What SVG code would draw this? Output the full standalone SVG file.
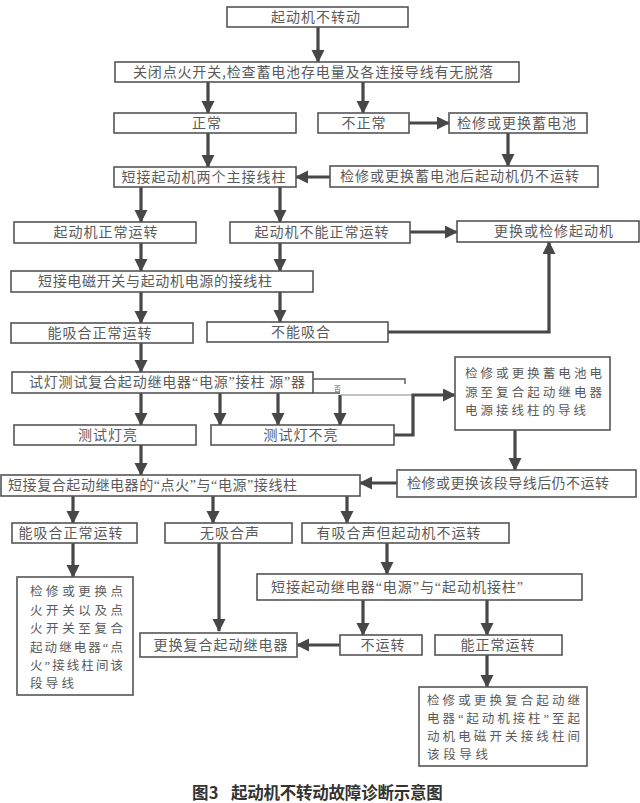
<svg xmlns="http://www.w3.org/2000/svg" width="640" height="803" viewBox="0 0 640 803">
<defs>
<style>
.b{fill:#fff;stroke:#555;stroke-width:1.6}
.t{font-family:"Noto Sans CJK SC","Noto Sans CJK JP",sans-serif;font-size:14px;fill:#5a5a5a;letter-spacing:1px}
.c{text-anchor:middle}
.m{font-family:"Noto Sans CJK SC","Noto Sans CJK JP",sans-serif;font-size:12.5px;fill:#5a5a5a}
.q{font-family:"Liberation Serif",serif}
.k{fill:none;stroke:#474747;stroke-width:3.2}
.cap{font-family:"Noto Sans CJK SC","Noto Sans CJK JP",sans-serif;font-size:16.5px;fill:#333;font-weight:bold;letter-spacing:0.3px}
</style>
<marker id="ah" markerUnits="userSpaceOnUse" markerWidth="16" markerHeight="16" refX="12" refY="6.5" orient="auto" viewBox="0 0 16 16">
<path d="M0,0 L13,6.5 L0,13 z" fill="#474747"/>
</marker>
</defs>
<rect width="640" height="803" fill="#fff"/>

<g id="connectors">
<path class="k" marker-end="url(#ah)" d="M318,27 V62"/>
<path class="k" marker-end="url(#ah)" d="M208,82 V113"/>
<path class="k" marker-end="url(#ah)" d="M363,82 V113"/>
<path class="k" marker-end="url(#ah)" d="M409,123 H449"/>
<path class="k" marker-end="url(#ah)" d="M208,133 V167"/>
<path class="k" marker-end="url(#ah)" d="M508,133 V166"/>
<path class="k" marker-end="url(#ah)" d="M330,177 H296"/>
<path class="k" marker-end="url(#ah)" d="M141,187 V222"/>
<path class="k" marker-end="url(#ah)" d="M280,187 V222"/>
<path class="k" marker-end="url(#ah)" d="M410,232 H457"/>
<path class="k" marker-end="url(#ah)" d="M141,243 V271"/>
<path class="k" marker-end="url(#ah)" d="M280,243 V271"/>
<path class="k" marker-end="url(#ah)" d="M141,292 V323"/>
<path class="k" marker-end="url(#ah)" d="M280,292 V322"/>
<path class="k" marker-end="url(#ah)" d="M388,332 H549 V242"/>
<path class="k" marker-end="url(#ah)" d="M141,343 V372"/>
<path class="k" marker-end="url(#ah)" d="M141,393 V425"/>
<path class="k" marker-end="url(#ah)" d="M220,393 V425"/>
<path class="k" marker-end="url(#ah)" d="M278,393 V425"/>
<path class="k" marker-end="url(#ah)" d="M340,395 V425"/>
<path fill="none" stroke="#888" stroke-width="1.2" d="M340,395 H413"/>
<path class="k" marker-end="url(#ah)" d="M394,435 H413 V395 H455"/>
<path class="k" marker-end="url(#ah)" d="M515,430 V470"/>
<path class="k" marker-end="url(#ah)" d="M397,483 H360"/>
<path class="k" marker-end="url(#ah)" d="M141,445 V475"/>
<path class="k" marker-end="url(#ah)" d="M73,495 V523"/>
<path class="k" marker-end="url(#ah)" d="M213,495 V523"/>
<path class="k" marker-end="url(#ah)" d="M347,495 V523"/>
<path class="k" marker-end="url(#ah)" d="M73,543 V577"/>
<path class="k" marker-end="url(#ah)" d="M219,543 V631"/>
<path class="k" marker-end="url(#ah)" d="M387,543 V574"/>
<path class="k" marker-end="url(#ah)" d="M363,600 V635"/>
<path class="k" marker-end="url(#ah)" d="M487,600 V635"/>
<path class="k" marker-end="url(#ah)" d="M340,645 H297"/>
<path class="k" marker-end="url(#ah)" d="M487,655 V687"/>
</g>

<g id="n1"><rect class="b" x="227" y="7" width="181" height="20"/><text class="t c" x="316" y="22">起动机不转动</text></g>
<g id="n2"><rect class="b" x="115" y="62" width="404" height="20"/><text class="t" x="133" y="77" textLength="361" lengthAdjust="spacing">关闭点火开关,检查蓄电池存电量及各连接导线有无脱落</text></g>
<g id="n3"><rect class="b" x="114" y="113" width="182" height="20"/><text class="t c" x="207" y="128">正常</text></g>
<g id="n4"><rect class="b" x="318" y="113" width="91" height="20"/><text class="t c" x="364" y="128">不正常</text></g>
<g id="n5"><rect class="b" x="449" y="113" width="138" height="20"/><text class="t c" x="517" y="128">检修或更换蓄电池</text></g>
<g id="n6"><rect class="b" x="114" y="167" width="182" height="20"/><text class="t c" x="204" y="182">短接起动机两个主接线柱</text></g>
<g id="n7"><rect class="b" x="330" y="166" width="268" height="21"/><text class="t c" x="460" y="181">检修或更换蓄电池后起动机仍不运转</text></g>
<g id="n8"><rect class="b" x="14" y="222" width="182" height="21"/><text class="t c" x="106" y="237">起动机正常运转</text></g>
<g id="n9"><rect class="b" x="230" y="222" width="180" height="21"/><text class="t c" x="322" y="237">起动机不能正常运转</text></g>
<g id="n10"><rect class="b" x="457" y="221" width="182" height="21"/><text class="t c" x="554" y="236">更换或检修起动机</text></g>
<g id="n11"><rect class="b" x="11" y="271" width="302" height="21"/><text class="t" x="38" y="286" textLength="235" lengthAdjust="spacing">短接电磁开关与起动机电源的接线柱</text></g>
<g id="n12"><rect class="b" x="11" y="323" width="182" height="20"/><text class="t c" x="100" y="338">能吸合正常运转</text></g>
<g id="n13"><rect class="b" x="207" y="322" width="181" height="20"/><text class="t c" x="301" y="337">不能吸合</text></g>
<g id="n14">
<rect class="b" x="12" y="372" width="301" height="21"/>
<path fill="none" stroke="#555" stroke-width="1.4" d="M313,379 H405 V384 M313,393 H340"/>
<text class="t" x="29" y="387" textLength="277" lengthAdjust="spacing">试灯测试复合起动继电器<tspan class="q">“</tspan>电源<tspan class="q">”</tspan>接柱 源<tspan class="q">”</tspan>器</text>
<text x="334" y="391" font-family="Noto Sans CJK SC,sans-serif" font-size="7" fill="#555">否</text>
</g>
<g id="n15"><rect class="b" x="14" y="425" width="182" height="20"/><text class="t c" x="108" y="440">测试灯亮</text></g>
<g id="n16"><rect class="b" x="211" y="425" width="183" height="20"/><text class="t c" x="301" y="440">测试灯不亮</text></g>
<g id="n17"><rect class="b" x="455" y="357" width="155" height="73"/>
<text class="m" x="465" y="378" textLength="137" lengthAdjust="spacing">检修或更换蓄电池电</text>
<text class="m" x="465" y="397" textLength="137" lengthAdjust="spacing">源至复合起动继电器</text>
<text class="m" x="465" y="415" textLength="121" lengthAdjust="spacing">电源接线柱的导线</text></g>
<g id="n18"><rect class="b" x="1" y="475" width="359" height="21"/><text class="t" x="8" y="490" textLength="290" lengthAdjust="spacing">短接复合起动继电器的<tspan class="q">“</tspan>点火<tspan class="q">”</tspan>与<tspan class="q">“</tspan>电源<tspan class="q">”</tspan>接线柱</text></g>
<g id="n19"><rect class="b" x="397" y="470" width="239" height="27"/><text class="t" x="407" y="488" textLength="203" lengthAdjust="spacing">检修或更换该段导线后仍不运转</text></g>
<g id="n20"><rect class="b" x="12" y="523" width="125" height="20"/><text class="t c" x="71" y="538">能吸合正常运转</text></g>
<g id="n21"><rect class="b" x="165" y="523" width="127" height="20"/><text class="t c" x="230" y="538">无吸合声</text></g>
<g id="n22"><rect class="b" x="302" y="523" width="207" height="20"/><text class="t c" x="399" y="538">有吸合声但起动机不运转</text></g>
<g id="n23"><rect class="b" x="17" y="577" width="116" height="118"/>
<text class="m" x="30" y="596" textLength="93" lengthAdjust="spacing">检修或更换点</text>
<text class="m" x="30" y="615" textLength="93" lengthAdjust="spacing">火开关以及点</text>
<text class="m" x="30" y="633" textLength="93" lengthAdjust="spacing">火开关至复合</text>
<text class="m" x="30" y="652" textLength="93" lengthAdjust="spacing">起动继电器<tspan class="q">“</tspan>点</text>
<text class="m" x="30" y="670" textLength="93" lengthAdjust="spacing">火<tspan class="q">”</tspan>接线柱间该</text>
<text class="m" x="30" y="688" textLength="44" lengthAdjust="spacing">段导线</text></g>
<g id="n24"><rect class="b" x="257" y="574" width="325" height="26"/><text class="t" x="271" y="592" textLength="253" lengthAdjust="spacing">短接起动继电器<tspan class="q">“</tspan>电源<tspan class="q">”</tspan>与<tspan class="q">“</tspan>起动机接柱<tspan class="q">”</tspan></text></g>
<g id="n25"><rect class="b" x="140" y="633" width="157" height="24"/><text class="t c" x="221" y="650">更换复合起动继电器</text></g>
<g id="n26"><rect class="b" x="340" y="635" width="82" height="20"/><text class="t c" x="383" y="650">不运转</text></g>
<g id="n27"><rect class="b" x="435" y="635" width="127" height="20"/><text class="t c" x="498" y="650">能正常运转</text></g>
<g id="n28"><rect class="b" x="419" y="687" width="168" height="79"/>
<text class="m" x="427" y="705" textLength="153" lengthAdjust="spacing">检修或更换复合起动继</text>
<text class="m" x="427" y="723" textLength="153" lengthAdjust="spacing">电器<tspan class="q">“</tspan>起动机接柱<tspan class="q">”</tspan>至起</text>
<text class="m" x="427" y="741" textLength="153" lengthAdjust="spacing">动机电磁开关接线柱间</text>
<text class="m" x="427" y="759" textLength="61" lengthAdjust="spacing">该段导线</text></g>

<text class="cap" x="192" y="799">图3</text>
<text class="cap" x="231" y="799" textLength="212" lengthAdjust="spacing">起动机不转动故障诊断示意图</text>
</svg>
